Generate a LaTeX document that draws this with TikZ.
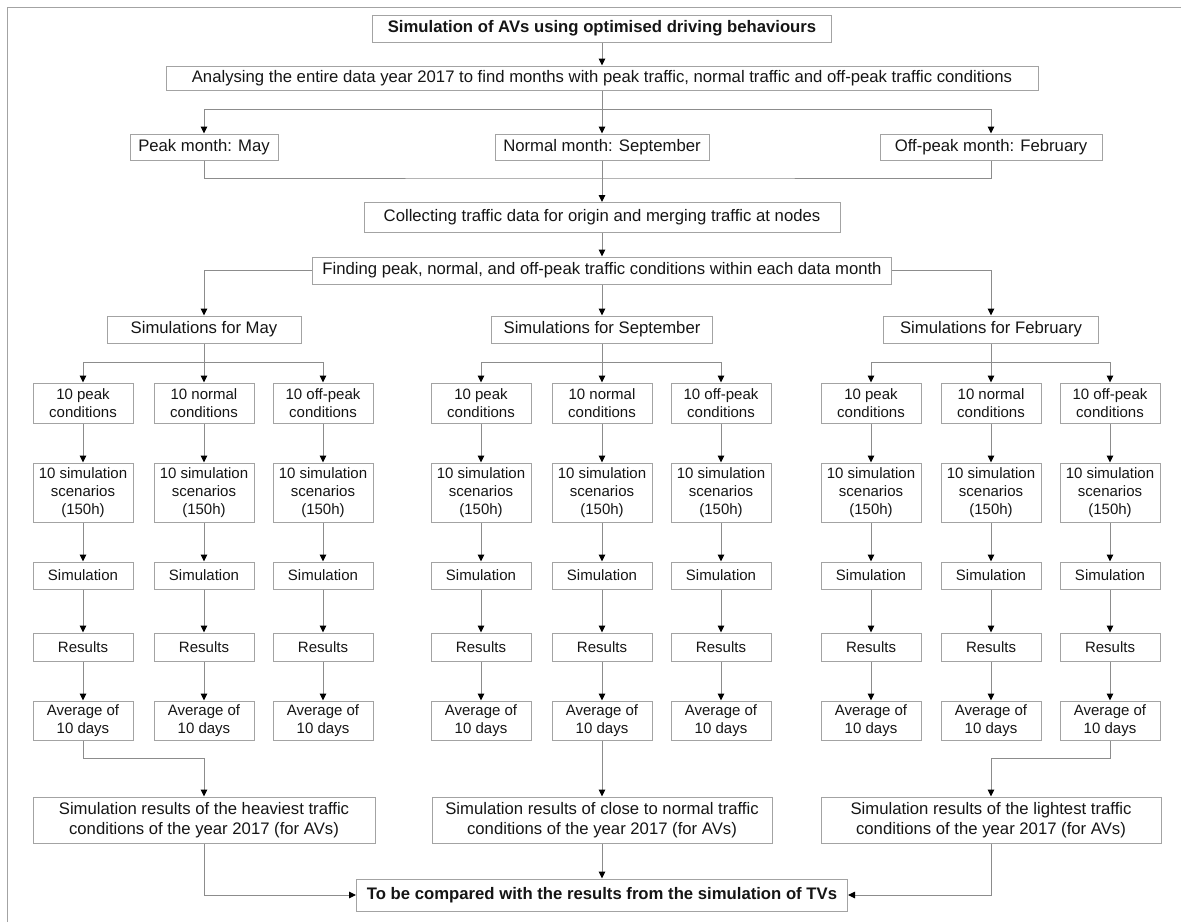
\documentclass[tikz,border=0pt]{standalone}
\usepackage{fontspec}
\setmainfont{Liberation Sans}
\usetikzlibrary{arrows.meta}
\definecolor{boxc}{HTML}{A3A3A3}
\definecolor{linec}{HTML}{8C8C8C}
\definecolor{txtc}{HTML}{151515}
\tikzset{
  box/.style={draw=boxc, line width=1pt, inner sep=0pt, align=center, text=txtc,
    font=\fontsize{16.7}{20}\selectfont},
  colbox/.style={box, minimum width=100pt, font=\fontsize{15}{18}\selectfont},
  line/.style={draw=linec, line width=1pt},
  arr/.style={line, -{Triangle[width=6.5pt,length=7pt,color=black]}},
  framec/.style={draw=boxc, line width=1pt}
}
\begin{document}
\begin{tikzpicture}[x=1pt,y=-1pt]
\useasboundingbox (0,0) rectangle (1181,922);
\draw[framec] (7,922) -- (7,7) -- (1181,7);

\node[box, minimum width=459pt, minimum height=27pt, font=\fontsize{16.7}{20}\selectfont\bfseries] (title) at (602,28.5) {Simulation of AVs using optimised driving behaviours};
\node[box, minimum width=872pt, minimum height=24pt] (analyse) at (602,78) {Analysing the entire data year 2017 to find months with peak traffic, normal traffic and off-peak traffic conditions};
\node[box, minimum width=148pt, minimum height=26pt] (peakm) at (204,147) {Peak month: May};
\node[box, minimum width=214pt, minimum height=26pt] (normm) at (602,147) {Normal month: September};
\node[box, minimum width=222pt, minimum height=26pt] (offm) at (991,147) {Off-peak month: February};
\node[box, minimum width=476pt, minimum height=30pt] (collect) at (602,217.5) {Collecting traffic data for origin and merging traffic at nodes};
\node[box, minimum width=579pt, minimum height=27pt] (find) at (602,270.5) {Finding peak, normal, and off-peak traffic conditions within each data month};
\node[box, minimum width=194pt, minimum height=27pt] (maybox) at (204,329.5) {Simulations for May};
\node[box, minimum width=221pt, minimum height=27pt] (septbox) at (602,329.5) {Simulations for September};
\node[box, minimum width=215pt, minimum height=27pt] (febbox) at (991,329.5) {Simulations for February};

\coordinate (bus1) at (602,109);
\coordinate (merge1) at (602,178);
\draw[arr] (title) -- (analyse);
\draw[line] (analyse) -- (bus1);
\draw[arr] (bus1) -| (peakm);
\draw[arr] (bus1) -| (offm);
\draw[arr] (bus1) -- (normm);
\draw[line] (peakm.south) |- (merge1) -| (offm.south);
\draw[arr] (normm) -- (collect);
\draw[arr] (collect) -- (find);
\draw[arr] (find.west) -| (maybox);
\draw[arr] (find.east) -| (febbox);
\draw[arr] (find) -- (septbox);

\foreach \i/\x/\t in {1/83/peak,2/204/normal,3/323/off-peak,4/481/peak,5/602/normal,6/721/off-peak,7/871/peak,8/991/normal,9/1110/off-peak}{
  \node[colbox, minimum height=40pt] (cond-\i) at (\x,403) {10 \t\\conditions};
  \node[colbox, minimum height=59pt] (scen-\i) at (\x,492.5) {10 simulation\\scenarios\\(150h)};
  \node[colbox, minimum height=27pt] (sim-\i) at (\x,575.5) {Simulation};
  \node[colbox, minimum height=28pt] (res-\i) at (\x,647) {Results};
  \node[colbox, minimum height=39pt] (avg-\i) at (\x,720.5) {Average of\\10 days};
  \draw[arr] (cond-\i) -- (scen-\i);
  \draw[arr] (scen-\i) -- (sim-\i);
  \draw[arr] (sim-\i) -- (res-\i);
  \draw[arr] (res-\i) -- (avg-\i);
}

\coordinate (bm1) at (204,362);
\coordinate (bm2) at (602,362);
\coordinate (bm3) at (991,362);
\draw[line] (maybox) -- (bm1);
\draw[arr] (bm1) -| (cond-1);
\draw[arr] (bm1) -| (cond-3);
\draw[arr] (bm1) -- (cond-2);
\draw[line] (septbox) -- (bm2);
\draw[arr] (bm2) -| (cond-4);
\draw[arr] (bm2) -| (cond-6);
\draw[arr] (bm2) -- (cond-5);
\draw[line] (febbox) -- (bm3);
\draw[arr] (bm3) -| (cond-7);
\draw[arr] (bm3) -| (cond-9);
\draw[arr] (bm3) -- (cond-8);

\node[box, minimum width=342pt, minimum height=46pt] (heavy) at (204,820) {Simulation results of the heaviest traffic\\conditions of the year 2017 (for AVs)};
\node[box, minimum width=340pt, minimum height=46pt] (close) at (602,820) {Simulation results of close to normal traffic\\conditions of the year 2017 (for AVs)};
\node[box, minimum width=340pt, minimum height=46pt] (light) at (991,820) {Simulation results of the lightest traffic\\conditions of the year 2017 (for AVs)};
\node[box, minimum width=491pt, minimum height=32pt, font=\fontsize{16.7}{20}\selectfont\bfseries] (final) at (602,895) {To be compared with the results from the simulation of TVs};

\draw[arr] (avg-1.south) -- ++(0,18) -| (heavy.north);
\draw[arr] (avg-5) -- (close);
\draw[arr] (avg-9.south) -- ++(0,18) -| (light.north);
\draw[arr] (heavy.south) |- (final.west);
\draw[arr] (light.south) |- (final.east);
\draw[arr] (close) -- (final);
\end{tikzpicture}
\end{document}
